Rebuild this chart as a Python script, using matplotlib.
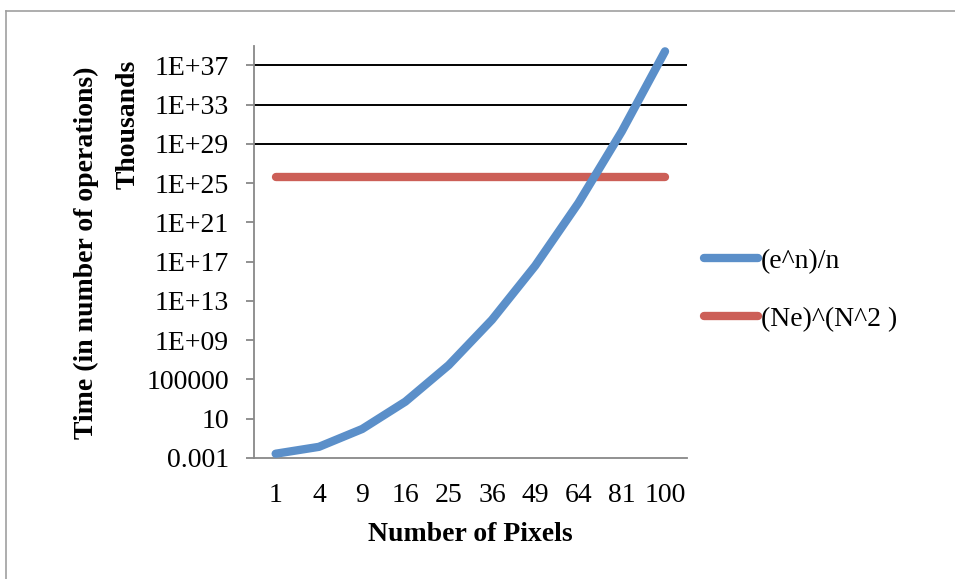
import matplotlib.pyplot as plt
from matplotlib.lines import Line2D
from matplotlib.ticker import FixedLocator, NullLocator

# Data (values in thousands)
pixels = ['1', '4', '9', '16', '25', '36', '49', '64', '81', '100']
exp_over_n = [2.718e-3, 1.365e-2, 0.9003, 555.4, 2.88e6, 1.198e11,
              3.892e16, 9.742e22, 1.859e30, 2.688e38]
ne_pow = [4.5e25] * 10
y_tick_vals = [1e-3, 1e1, 1e5, 1e9, 1e13, 1e17, 1e21, 1e25, 1e29, 1e33, 1e37]
y_tick_labels = ['0.001', '10', '100000', '1E+09', '1E+13', '1E+17',
                 '1E+21', '1E+25', '1E+29', '1E+33', '1E+37']
grid_vals = [1e29, 1e33, 1e37]

# Style
font = 'Liberation Serif'
fs = 20
blue = '#5b8fc9'
red = '#cc5f57'
axis_grey = '#888888'

fig = plt.figure(figsize=(9.55, 5.79), dpi=100)
ax = fig.add_axes([0.266, 0.209, 0.453, 0.712])

# Chart border (cut off at right and bottom)
fig.add_artist(Line2D([0.006, 0.006], [-0.1, 0.981], color='#a0a0a0', lw=1.2))
fig.add_artist(Line2D([0.006, 1.1], [0.981, 0.981], color='#a0a0a0', lw=1.2))

x = list(range(len(pixels)))

# Partial gridlines
for g in grid_vals:
    ax.axhline(g, color='black', lw=1.4, zorder=1)

ax.plot(x, exp_over_n, color=blue, lw=6, solid_capstyle='round',
        solid_joinstyle='round', label='(e^n)/n', zorder=3)
ax.plot(x, ne_pow, color=red, lw=6, solid_capstyle='round',
        label='(Ne)^(N^2 )', zorder=2)

ax.set_yscale('log')
ax.set_ylim(1e-3, 1e39)
ax.set_xlim(-0.5, len(pixels) - 0.5)
ax.yaxis.set_major_locator(FixedLocator(y_tick_vals))
ax.yaxis.set_minor_locator(NullLocator())
ax.set_yticklabels(y_tick_labels, fontfamily=font, fontsize=fs)
ax.set_xticks(x)
ax.set_xticklabels(pixels, fontfamily=font, fontsize=fs)

for side in ['top', 'right']:
    ax.spines[side].set_visible(False)
for side in ['left', 'bottom']:
    ax.spines[side].set_color(axis_grey)
    ax.spines[side].set_linewidth(1.3)
ax.tick_params(axis='y', direction='out', length=6, width=1.3,
               color=axis_grey, pad=12)
ax.tick_params(axis='x', length=0, pad=18)

# Axis titles
fig.text(0.492, 0.076, 'Number of Pixels', ha='center', va='center',
         fontfamily=font, fontsize=fs, fontweight='bold')
fig.text(0.091, 0.563, 'Time (in number of operations)', ha='center',
         va='center', rotation=90, fontfamily=font, fontsize=fs,
         fontweight='bold')
fig.text(0.134, 0.785, 'Thousands', ha='center', va='center', rotation=90,
         fontfamily=font, fontsize=fs, fontweight='bold')

# Legend
ax.legend(loc='center left', bbox_to_anchor=(0.737, 0.499),
          bbox_transform=fig.transFigure, frameon=False,
          prop={'family': font, 'size': fs}, handlelength=1.95,
          handletextpad=0.1, labelspacing=1.16, borderpad=0,
          borderaxespad=0)

fig.savefig('out.png', dpi=100)
